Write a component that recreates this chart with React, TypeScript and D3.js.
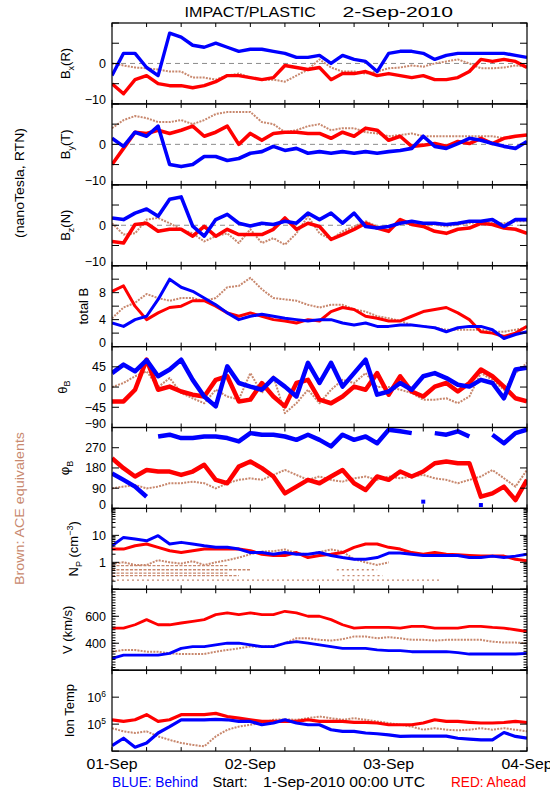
import React from 'react';
import * as d3 from 'd3';

// ---------- time grid (hours since 1-Sep-2010 00:00 UTC) ----------
const HOURS = [0, 2, 4, 6, 8, 10, 12, 14, 16, 18, 20, 22, 24, 26, 28, 30, 32, 34, 36, 38, 40, 42, 44, 46, 48, 50, 52, 54, 56, 58, 60, 62, 64, 66, 68, 70, 72];
const X_TICKS = [0, 6, 12, 18, 24, 30, 36, 42, 48, 54, 60, 66, 72];
const DAY_HOURS = [0, 24, 48, 72];
const DAY_LABELS = ['01-Sep', '02-Sep', '03-Sep', '04-Sep'];

// ---------- Bx (R) ----------
const bxBlue = [-3, 2.5, 2.5, -1, -3, 7.5, 6.5, 4.5, 4, 5, 4, 3, 3.5, 3.5, 3, 2.5, 1.5, 1.5, 2, 0, 2, 1, 0.5, -2, 2.5, 3, 3, 2.5, 1, 2, 2.5, 2.5, 2.5, 2.5, 2.5, 2, 1.5];
const bxRed = [-5, -7.5, -4, -3, -5, -5.5, -5.5, -6, -5.5, -4.5, -3, -3, -3.5, -4, -3.5, -0.5, -1, -1.5, -1, -4, -2.5, -2.5, -2, -3, -2.5, -3, -3.5, -3, -4, -4, -3.5, -2, 1, 0.5, 1, 0.5, -1];
const bxBrown = [0, -0.5, -1, -1.2, -1.5, -2, -2, -3.5, -3.5, -4, -3, -2.5, -3.5, -4, -4, -4.5, -3, -1.5, 1, -1, -2, -2, -2.5, -2, -1.2, -1, -0.5, -0.8, 0, 0.5, 1, 0, -1.2, -1.2, -1, -0.5, -0.8];

// ---------- By (T) ----------
const byBlue = [1.5, -0.5, 3, 2, 4.5, -5, -5.5, -5, -3, -3, -4, -3.5, -2.2, -1.8, -0.5, -1.5, -1, -2.2, -1.8, -2.2, -1.8, -2.2, -1.8, -2.2, -1.8, -1.5, -1, 2, -0.5, -1, 0.2, 1.5, 1, 0.2, -0.5, -1, 0.7];
const byRed = [-5, -1, 3, 2.7, 3.5, 2.7, 3.5, 4.5, 2, 3, 4.5, 0, 2.7, 1, 2.7, 3, 3, 2.7, 2.7, 1.5, 3, 2, 4, 3.5, 1, 2, -0.5, -0.2, 0.2, -0.5, 0.7, 0.2, 1.5, 0.2, 1.5, 2, 2.3];
const byBrown = [4, 6, 7, 6.5, 5.5, 5.5, 6, 5, 6, 7.5, 8, 8, 8, 5.5, 5, 3, 3.5, 4.5, 5, 3.5, 4, 4, 3, 2.7, 2, 2.3, 2.7, 2, 2, 2, 2, 2, 2, 2, 1.5, 2, 2.3];

// ---------- Bz (N) ----------
const bzBlue = [1.8, 1.4, 3, 4, 2.2, 6.4, 7, -0.2, -2.7, 1.4, 2.7, 0.5, -0.2, 0.5, 0.2, 1, 0.5, 3, 1.4, 3, 0.5, 3, -0.3, -0.7, -0.3, 0.5, 1, 0.5, 0.5, 0.2, 0.5, 1, 1, 1.4, -0.3, 1.4, 1.4];
const bzRed = [-4, -4.4, 0.2, 0.5, -1.5, -1, -1, -2.7, -0.3, -2.7, -1, -2.3, -2.3, -2.3, -1, 1.8, -1, 0.5, -0.3, -3.5, -2.3, -1, 0.5, -0.7, -1.5, 1.4, 0.2, -0.3, -1.5, -2, -1, -0.7, 0.5, 0.2, -0.7, -1, -2];
const bzBrown = [0.5, -2.3, -2, 1.4, 1.8, 0.5, -1, -2, -4, -2.7, -2, -4.4, -1, -4.4, -3.2, -4.8, -2, 2.2, -2, -3.5, -1.5, -0.3, 1, -0.3, -0.3, 0.5, 0.2, -0.3, 0.2, -0.3, 0.2, 0.5, 1, 0.5, 0.5, 1, 1];

// ---------- total B ----------
const btBlue = [3.5, 3, 4, 4.5, 7, 10, 8.8, 8.2, 7.2, 6.2, 5, 4, 4.5, 4.8, 4.5, 4.2, 4, 3.8, 4, 4, 3.5, 3.2, 3.5, 3, 3, 3.2, 3.2, 3, 2.8, 2.2, 2.8, 3, 3, 2.5, 1.2, 1.8, 2.2];
const btRed = [8.2, 9, 6, 4, 5, 5.8, 6, 6.8, 6.8, 6, 5, 4.5, 5, 4.5, 4, 3.8, 3.5, 4, 3.8, 5.2, 5.8, 5.5, 4.5, 4.2, 3.8, 3.8, 4.5, 5.2, 5.5, 5.8, 5, 4, 2.2, 2, 1.5, 2, 3];
const btBrown = [4.2, 5.8, 6.5, 7.8, 7.2, 6.8, 7.2, 7.2, 6.8, 7.2, 8.8, 9, 10.2, 8.5, 7.2, 7, 6.8, 6.2, 5.8, 6.2, 6.2, 5.5, 5.2, 4.5, 4.2, 3.8, 3.2, 3, 2.8, 2.5, 2.5, 2.5, 2.5, 2.2, 2.2, 2.5, 2.8];

// ---------- theta_B ----------
const thBlue = [31, 50, 35, 60, 24, 39, 61, 16, -21, -43, 46, 9, 1, -6, 20, 1, -21, 54, 9, 54, 1, 31, 61, -17, -10, 9, -6, 24, 31, 20, 5, 1, 16, 9, -25, 39, 43];
const thRed = [-32, -32, -6, 61, -6, 1, -10, -17, -21, 16, 24, -32, -28, 9, -21, -43, 9, 16, -28, -36, -21, 1, -6, 31, -17, 24, -10, -21, 1, 9, -10, 9, 39, 24, 1, -25, -32];
const thBrown = [0, 9, 24, 35, 0, 20, -13, -25, -36, -6, -21, -28, 31, -13, 24, -58, -36, -6, -36, -6, 16, 9, 31, 0, 0, -6, -13, -28, -28, -25, -36, -21, 31, 16, -6, 31, 54];

// ---------- phi_B ----------
const phBlue = [156, 127, 97, 52, 320, 328, 313, 313, 320, 320, 313, 298, 335, 328, 328, 320, 305, 328, 305, 276, 328, 305, 320, 290, 350, 343, 335, 30, 335, 328, 343, 320, 15, 328, 290, 335, 350];
const phRed = [223, 179, 142, 171, 164, 164, 149, 164, 194, 127, 112, 186, 209, 179, 142, 67, 97, 127, 112, 142, 171, 112, 82, 142, 127, 164, 142, 164, 201, 209, 201, 201, 52, 67, 97, 37, 127];
const phBrown = [89, 97, 104, 89, 97, 112, 112, 119, 112, 89, 112, 127, 134, 127, 149, 171, 149, 127, 142, 127, 119, 134, 142, 127, 142, 134, 142, 149, 134, 127, 112, 127, 142, 171, 134, 97, 171];

// ---------- N_P (cm^-3) ----------
const npBlue = [4.1, 8.4, 7.3, 6.3, 9.7, 4.8, 5.5, 4.8, 4.1, 3.6, 3.6, 3.1, 2.3, 2.3, 2.0, 2.3, 2.0, 2.0, 2.3, 1.8, 1.5, 1.3, 1.3, 1.5, 2.2, 2.2, 2.0, 1.8, 1.8, 1.8, 1.8, 1.5, 1.5, 1.7, 1.5, 1.7, 2.0];
const npRed = [3.1, 3.1, 4.1, 4.8, 3.6, 2.7, 2.3, 2.7, 3.1, 3.1, 3.1, 3.1, 2.7, 2.0, 1.8, 1.8, 2.3, 1.5, 1.8, 2.0, 2.3, 3.6, 4.8, 4.8, 3.6, 3.1, 2.3, 2.0, 2.3, 2.0, 1.9, 1.8, 1.7, 1.7, 1.7, 1.3, 1.15];
const npBrown = [0.9, 1.0, 0.8, 0.8, 1.2, 1.0, 0.9, 1.1, 0.8, 1.0, 1.2, 1.5, 2.0, 2.5, 2.6, 3.0, 2.2, 2.0, 2.4, 3.0, 2.5, 1.3, 1.0, 0.8, 1.0, null, null, null, null, null, null, null, null, null, null, null, null];
// ACE low-density quantised levels (dotted bands)
const npBandLevel = [0.75, 0.53, 0.4, 0.32, 0.22, 0.53, 0.32];
const npBandFrom = [0, 0, 0, 0, 0, 39, 40];
const npBandTo = [20, 24, 20, 22, 57, 46, 47];

// ---------- V (km/s) ----------
const vRed = [512, 512, 537, 575, 537, 537, 550, 562, 575, 612, 625, 612, 625, 612, 612, 637, 625, 600, 600, 575, 537, 512, 517, 517, 517, 512, 525, 525, 512, 512, 512, 525, 525, 517, 512, 500, 487];
const vBlue = [287, 312, 312, 312, 312, 325, 362, 375, 375, 387, 400, 400, 387, 375, 375, 400, 412, 400, 387, 375, 362, 362, 362, 350, 345, 345, 337, 337, 337, 337, 330, 320, 320, 320, 320, 320, 325];
const vBrown = [337, 350, 350, 337, 337, 325, 320, 320, 320, 337, 350, 362, 375, 375, 380, 400, 437, 437, 425, 420, 430, 450, 450, 437, 445, 437, 425, 425, 420, 425, 425, 425, 425, 412, 405, 405, 400];

// ---------- Ion Temp (K) ----------
const tRed = [145e3, 126e3, 145e3, 224e3, 126e3, 145e3, 224e3, 224e3, 224e3, 251e3, 191e3, 166e3, 145e3, 126e3, 126e3, 126e3, 126e3, 145e3, 126e3, 126e3, 126e3, 117e3, 117e3, 110e3, 95e3, 95e3, 95e3, 110e3, 145e3, 126e3, 126e3, 117e3, 110e3, 110e3, 115e3, 126e3, 115e3];
const tBlue = [16e3, 30e3, 14e3, 20e3, 47e3, 81e3, 145e3, 145e3, 145e3, 150e3, 145e3, 126e3, 126e3, 95e3, 110e3, 145e3, 110e3, 95e3, 95e3, 62e3, 54e3, 54e3, 47e3, 44e3, 40e3, 35e3, 36e3, 36e3, 36e3, 36e3, 30e3, 28e3, 26e3, 26e3, 49e3, 35e3, 30e3];
const tBrown = [71e3, 54e3, 47e3, 54e3, 35e3, 26e3, 20e3, 17e3, 15e3, 35e3, 62e3, 81e3, 95e3, 110e3, 145e3, 150e3, 145e3, 166e3, 191e3, 166e3, 145e3, 166e3, 145e3, 126e3, 110e3, 95e3, 81e3, 62e3, 71e3, 62e3, 59e3, 62e3, 71e3, 62e3, 71e3, 62e3, 54e3];

// ---------- layout / style ----------
const BLUE = '#0000ff';
const RED = '#ff0000';
const BROWN = '#c8886e';
const FONT = '"Liberation Sans", Arial, Helvetica, sans-serif';
const X0 = 112;
const X1 = 527;
const TOP = 23;
const PH = 80.9;

type PanelDef = {
  key: string;
  log: boolean;
  domain: [number, number];
  major: number[];
  minor: number[];
  labels: number[];
  zero: boolean;
  wrap: boolean;
  width: number;
  blue: (number | null)[];
  red: (number | null)[];
  brown: (number | null)[];
  title: React.ReactNode;
  titleX: number;
};

const logMinor = (lo: number, hi: number) => {
  const out: number[] = [];
  for (let e = lo; e < hi; e++) for (let m = 2; m <= 9; m++) out.push(m * Math.pow(10, e));
  return out;
};

const sub = (t: string) => (
  <tspan dy={3.5} fontSize={9}>{t}</tspan>
);

const PANELS: PanelDef[] = [
  {
    key: 'bx', log: false, domain: [-10, 10], major: [-10, -5, 0, 5, 10], minor: [], labels: [0, -10], zero: true, wrap: false, width: 3.4,
    blue: bxBlue, red: bxRed, brown: bxBrown,
    title: <>B{sub('x')}<tspan dy={-3.5}>(R)</tspan></>, titleX: 70,
  },
  {
    key: 'by', log: false, domain: [-10, 10], major: [-10, -5, 0, 5, 10], minor: [], labels: [0, -10], zero: true, wrap: false, width: 3.6,
    blue: byBlue, red: byRed, brown: byBrown,
    title: <>B{sub('y')}<tspan dy={-3.5}>(T)</tspan></>, titleX: 70,
  },
  {
    key: 'bz', log: false, domain: [-10, 10], major: [-10, -5, 0, 5, 10], minor: [], labels: [0, -10], zero: true, wrap: false, width: 3.6,
    blue: bzBlue, red: bzRed, brown: bzBrown,
    title: <>B{sub('z')}<tspan dy={-3.5}>(N)</tspan></>, titleX: 70,
  },
  {
    key: 'bt', log: false, domain: [0, 12], major: [0, 2, 4, 6, 8, 10, 12], minor: [], labels: [0, 4, 8], zero: false, wrap: false, width: 3,
    blue: btBlue, red: btRed, brown: btBrown,
    title: <>total B</>, titleX: 87.5,
  },
  {
    key: 'th', log: false, domain: [-90, 90], major: [-90, -45, 0, 45, 90], minor: [], labels: [45, 0, -45, -90], zero: false, wrap: false, width: 4.5,
    blue: thBlue, red: thRed, brown: thBrown,
    title: <>θ{sub('B')}</>, titleX: 66.5,
  },
  {
    key: 'ph', log: false, domain: [0, 360], major: [0, 90, 180, 270, 360], minor: [], labels: [0, 90, 180, 270], zero: false, wrap: true, width: 4.5,
    blue: phBlue, red: phRed, brown: phBrown,
    title: <>φ{sub('B')}</>, titleX: 69,
  },
  {
    key: 'np', log: true, domain: [0.1, 100], major: [0.1, 1, 10, 100], minor: logMinor(-1, 2), labels: [1, 10], zero: false, wrap: false, width: 3,
    blue: npBlue, red: npRed, brown: npBrown,
    title: <>N{sub('P')}<tspan dy={-3.5}> (cm</tspan><tspan dy={-5} fontSize={9}>−3</tspan><tspan dy={5}>)</tspan></>, titleX: 78,
  },
  {
    key: 'v', log: false, domain: [200, 800], major: [200, 400, 600, 800], minor: d3.range(200, 801, 20), labels: [400, 600], zero: false, wrap: false, width: 2.8,
    blue: vBlue, red: vRed, brown: vBrown,
    title: <>V (km/s)</>, titleX: 72,
  },
  {
    key: 'ti', log: true, domain: [1e4, 1e7], major: [1e4, 1e5, 1e6, 1e7], minor: [], labels: [1e5, 1e6], zero: false, wrap: false, width: 3.2,
    blue: tBlue, red: tRed, brown: tBrown,
    title: <>Ion Temp</>, titleX: 74,
  },
];

const x = d3.scaleLinear().domain([0, 72]).range([X0, X1]);

function segments(vals: (number | null)[], wrap: boolean) {
  const segs: [number, number][][] = [];
  let cur: [number, number][] = [];
  vals.forEach((v, i) => {
    if (v == null || isNaN(v)) {
      if (cur.length) segs.push(cur);
      cur = [];
      return;
    }
    if (wrap && cur.length && Math.abs(v - cur[cur.length - 1][1]) > 180) {
      segs.push(cur);
      cur = [];
    }
    cur.push([HOURS[i], v]);
  });
  if (cur.length) segs.push(cur);
  return segs;
}

function tickLabel(p: PanelDef, v: number) {
  if (p.key === 'ti') {
    const e = Math.round(Math.log10(v));
    return (
      <>
        10<tspan dy={-5} fontSize={8.5}>{e}</tspan>
      </>
    );
  }
  return String(v).replace('-', '−');
}

function Panel({ p, i }: { p: PanelDef; i: number }) {
  const y0 = TOP + i * PH;
  const y1 = y0 + PH;
  const y: any = p.log
    ? d3.scaleLog().domain(p.domain).range([y1, y0])
    : d3.scaleLinear().domain(p.domain).range([y1, y0]);
  const line = d3.line<[number, number]>().x((d) => x(d[0])).y((d) => y(d[1]));
  const clipId = `clip-${p.key}`;

  const drawSeries = (vals: (number | null)[], color: string, width: number, dash?: string) =>
    segments(vals, p.wrap).map((seg, k) =>
      seg.length > 1 ? (
        <path key={k} d={line(seg) || ''} fill="none" stroke={color} strokeWidth={width} strokeDasharray={dash} strokeLinejoin="round" />
      ) : (
        <rect key={k} x={x(seg[0][0]) - 2} y={y(seg[0][1]) - 2} width={4} height={4} fill={color} />
      )
    );

  return (
    <g>
      <clipPath id={clipId}>
        <rect x={X0} y={y0} width={X1 - X0} height={PH} />
      </clipPath>
      <g clipPath={`url(#${clipId})`}>
        {p.zero && (
          <line x1={X0} x2={X1} y1={y(0)} y2={y(0)} stroke="#8c8c8c" strokeWidth={1} strokeDasharray="5,4" />
        )}
        {p.key === 'np' &&
          npBandLevel.map((lv, k) => (
            <line key={k} x1={x(npBandFrom[k])} x2={x(npBandTo[k])} y1={y(lv)} y2={y(lv)} stroke={BROWN} strokeWidth={1.3} strokeDasharray={k >= 4 ? '2,3' : '3,1.5'} />
          ))}
        {drawSeries(p.brown, BROWN, 2, '2,1.2')}
        {drawSeries(p.red, RED, p.width)}
        {drawSeries(p.blue, BLUE, p.width)}
      </g>
      {/* frame */}
      <rect x={X0} y={y0} width={X1 - X0} height={PH} fill="none" stroke="#000" strokeWidth={1.2} />
      {/* x ticks */}
      {X_TICKS.map((h) => (
        <g key={`xt${h}`}>
          <line x1={x(h)} x2={x(h)} y1={y1} y2={y1 - 4} stroke="#000" strokeWidth={1} />
          <line x1={x(h)} x2={x(h)} y1={y0} y2={y0 + 4} stroke="#000" strokeWidth={1} />
        </g>
      ))}
      {/* y ticks */}
      {p.major.map((v) => (
        <g key={`ym${v}`}>
          <line x1={X0} x2={X0 + 7} y1={y(v)} y2={y(v)} stroke="#000" strokeWidth={1} />
          <line x1={X1} x2={X1 - 7} y1={y(v)} y2={y(v)} stroke="#000" strokeWidth={1} />
        </g>
      ))}
      {p.minor.map((v, k) => (
        <g key={`yn${k}`}>
          <line x1={X0} x2={X0 + 3.5} y1={y(v)} y2={y(v)} stroke="#000" strokeWidth={1} />
          <line x1={X1} x2={X1 - 3.5} y1={y(v)} y2={y(v)} stroke="#000" strokeWidth={1} />
        </g>
      ))}
      {/* tick labels */}
      {p.labels.map((v) => (
        <text
          key={`yl${v}`}
          x={106}
          y={y(v) - (v === p.domain[0] ? 4 : 0)}
          dy="0.36em"
          textAnchor="end"
          fontSize={12.5}
        >
          {tickLabel(p, v)}
        </text>
      ))}
      {/* panel label */}
      <text transform={`translate(${p.titleX},${(y0 + y1) / 2}) rotate(-90)`} textAnchor="middle" fontSize={13}>
        {p.title}
      </text>
    </g>
  );
}

export default function App() {
  const bottom = TOP + PANELS.length * PH;
  return (
    <svg
      width={550}
      height={800}
      viewBox="0 0 550 800"
      style={{ position: 'absolute', left: 0, top: 0, background: '#fff' }}
      fontFamily={FONT}
    >
      <rect x={0} y={0} width={550} height={800} fill="#fff" />
      {/* title */}
      <text x={184.5} y={17} fontSize={15} textLength={131.5} lengthAdjust="spacingAndGlyphs">IMPACT/PLASTIC</text>
      <text x={342.5} y={17} fontSize={15} textLength={110.5} lengthAdjust="spacingAndGlyphs">2-Sep-2010</text>

      {PANELS.map((p, i) => (
        <Panel key={p.key} p={p} i={i} />
      ))}

      {/* side labels */}
      <text transform={`translate(24,${183}) rotate(-90)`} textAnchor="middle" fontSize={13} textLength={110} lengthAdjust="spacingAndGlyphs">
        (nanoTesla, RTN)
      </text>
      <text transform={`translate(24,${508.5}) rotate(-90)`} textAnchor="middle" fontSize={13} fill={BROWN} textLength={153} lengthAdjust="spacingAndGlyphs">
        Brown: ACE equivalents
      </text>

      {/* day labels */}
      {DAY_HOURS.map((h, k) => (
        <text key={h} x={x(h)} y={bottom + 17.5} textAnchor="middle" fontSize={14} textLength={51} lengthAdjust="spacingAndGlyphs">
          {DAY_LABELS[k]}
        </text>
      ))}

      {/* footer */}
      <text x={112} y={787} fontSize={14} fill={BLUE} textLength={86} lengthAdjust="spacingAndGlyphs">BLUE: Behind</text>
      <text x={212.5} y={787} fontSize={14} textLength={35} lengthAdjust="spacingAndGlyphs">Start:</text>
      <text x={263} y={787} fontSize={14} textLength={162} lengthAdjust="spacingAndGlyphs">1-Sep-2010 00:00 UTC</text>
      <text x={451} y={787} fontSize={14} fill={RED} textLength={75} lengthAdjust="spacingAndGlyphs">RED: Ahead</text>
    </svg>
  );
}
